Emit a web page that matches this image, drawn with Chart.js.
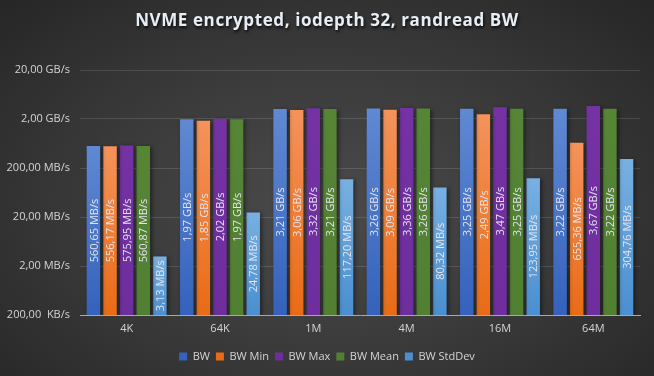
<!DOCTYPE html>
<html>
<head>
<meta charset="utf-8">
<script src="https://cdn.jsdelivr.net/npm/chart.js@4"></script>
<style>
  html, body { margin: 0; padding: 0; }
  body {
    width: 654px; height: 376px; overflow: hidden;
    background: radial-gradient(ellipse at 50% 55%, #4b4b4b 0%, #3a3a3a 50%, #262626 100%);
  }
  #wrap { width: 654px; height: 376px; }
</style>
</head>
<body>
<div id="wrap"><canvas id="chart"></canvas></div>
<script>
const categories = ['4K', '64K', '1M', '4M', '16M', '64M'];
const seriesNames = ['BW', 'BW Min', 'BW Max', 'BW Mean', 'BW StdDev'];
// values in MB/s
const bw = [560.65, 1970, 3210, 3260, 3250, 3220];
const bwMin = [556.17, 1850, 3060, 3090, 2490, 655.36];
const bwMax = [575.95, 2020, 3320, 3360, 3470, 3670];
const bwMean = [560.87, 1970, 3210, 3260, 3250, 3220];
const bwStdDev = [3.13, 24.78, 117.20, 80.32, 123.95, 304.76];
const yTicks = [0.2, 2, 20, 200, 2000, 20000];

const colorsTop = ['#6089d3', '#f4935b', '#7432a3', '#568536', '#78b0e1'];
const colorsBottom = ['#3462bc', '#e96b16', '#6e2e9e', '#528033', '#4a8fd0'];

function fmt(v) {
  if (v >= 1000) return (v / 1000).toFixed(2).replace('.', ',') + ' GB/s';
  if (v >= 1) return v.toFixed(2).replace('.', ',') + ' MB/s';
  return (v * 1000).toFixed(2).replace('.', ',') + '  KB/s';
}

function barFill(i) {
  return (ctx) => {
    const chart = ctx.chart;
    const area = chart.chartArea;
    if (!area || ctx.raw == null) return colorsBottom[i];
    const top = chart.scales.y.getPixelForValue(ctx.raw);
    const g = chart.ctx.createLinearGradient(0, top, 0, area.bottom);
    g.addColorStop(0, colorsTop[i]);
    g.addColorStop(1, colorsBottom[i]);
    return g;
  };
}

const allSeries = [bw, bwMin, bwMax, bwMean, bwStdDev];

const titlePlugin = {
  id: 'customTitle',
  afterLayout(chart) {
    // nudge the legend a bit right, like the original
    if (chart.legend) { chart.legend.left += 7; chart.legend.right += 7; }
  },
  afterDraw(chart) {
    const c = chart.ctx;
    c.save();
    c.font = 'bold 17px "Open Sans"';
    c.letterSpacing = '0.6px';
    c.textAlign = 'center';
    c.textBaseline = 'middle';
    c.shadowColor = 'rgba(0,0,0,0.8)';
    c.shadowBlur = 3;
    c.shadowOffsetX = 1;
    c.shadowOffsetY = 2;
    c.fillStyle = '#e8eef6';
    c.fillText('NVME encrypted, iodepth 32, randread BW', 327, 21);
    c.restore();
  }
};

const shadowPlugin = {
  id: 'barShadow',
  beforeDatasetsDraw(chart) {
    const c = chart.ctx;
    c.save();
    c.shadowColor = 'rgba(0,0,0,0.45)';
    c.shadowBlur = 4;
    c.shadowOffsetX = 2;
    c.shadowOffsetY = 1;
  },
  afterDatasetsDraw(chart) {
    chart.ctx.restore();
    const c = chart.ctx;
    c.save();
    c.font = '11px "Open Sans"';
    c.fillStyle = '#e4e4ec';
    c.textAlign = 'center';
    c.textBaseline = 'middle';
    chart.data.datasets.forEach((ds, di) => {
      const meta = chart.getDatasetMeta(di);
      meta.data.forEach((bar, i) => {
        const p = bar.getProps(['x', 'y', 'base']);
        const cy = (p.y + p.base) / 2;
        c.save();
        c.translate(p.x, cy);
        c.rotate(-Math.PI / 2);
        c.fillText(fmt(ds.data[i]), 0, 1);
        c.restore();
      });
    });
    c.restore();
  }
};

new Chart(document.getElementById('chart'), {
  type: 'bar',
  data: {
    labels: categories,
    datasets: seriesNames.map((name, i) => ({
      label: name,
      data: allSeries[i],
      backgroundColor: barFill(i),
      categoryPercentage: 0.89,
      barPercentage: 0.81
    }))
  },
  options: {
    responsive: true,
    maintainAspectRatio: false,
    animation: false,
    layout: { padding: { top: 70, right: 14, left: 0, bottom: 4 } },
    scales: {
      x: {
        grid: { display: false, drawTicks: false },
        border: { color: '#a8a8a8' },
        afterFit(scale) { scale.height = 30; },
        ticks: { color: '#d4d4d4', font: { family: 'Open Sans', size: 11 }, padding: 7 }
      },
      y: {
        type: 'logarithmic',
        min: 0.2,
        max: 20000,
        border: { display: false },
        grid: { color: 'rgba(255,255,255,0.13)', drawTicks: false },
        afterBuildTicks(scale) { scale.ticks = yTicks.map(v => ({ value: v })); },
        afterFit(scale) { scale.width = 80; },
        ticks: {
          color: '#d4d4d4',
          font: { family: 'Open Sans', size: 11 },
          padding: 10,
          callback: (v) => fmt(v)
        }
      }
    },
    plugins: {
      legend: {
        position: 'bottom',
        labels: {
          color: '#d4d4d4',
          font: { family: 'Open Sans', size: 11 },
          boxWidth: 8,
          boxHeight: 8,
          padding: 6
        }
      },
      tooltip: { enabled: false }
    }
  },
  plugins: [titlePlugin, shadowPlugin]
});
</script>
</body>
</html>
